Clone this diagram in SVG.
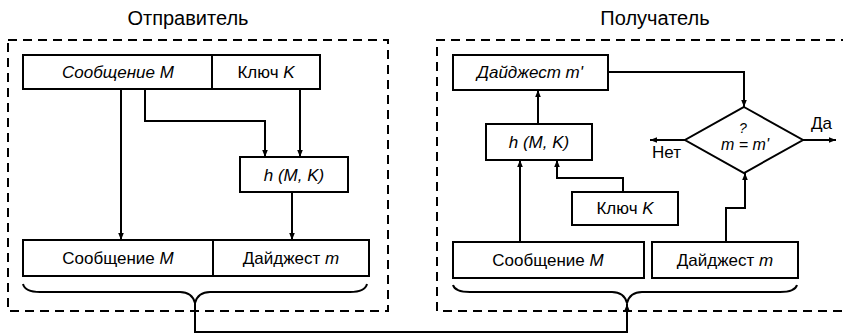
<svg xmlns="http://www.w3.org/2000/svg" width="843" height="334" viewBox="0 0 843 334">
<defs>
<marker id="ah" viewBox="0 0 10 10" refX="10" refY="5" markerWidth="7" markerHeight="7" orient="auto" markerUnits="userSpaceOnUse">
<path d="M0,1 L10,5 L0,9 z" fill="#000"/>
</marker>
<style>
.box{fill:#fff;stroke:#000;stroke-width:2}
.dash{fill:none;stroke:#000;stroke-width:2;stroke-dasharray:9,6}
.ln{fill:none;stroke:#000;stroke-width:2}
.ar{fill:none;stroke:#000;stroke-width:2;marker-end:url(#ah)}
text{font-family:"Liberation Sans",Arial,sans-serif;font-size:17px;fill:#000;text-anchor:middle}
.ttl{font-size:20px}
.i{font-style:italic}
.st{text-anchor:start}
</style>
</defs>
<rect width="843" height="334" fill="#fff"/>

<g id="sender">
<text class="ttl" x="188" y="25">Отправитель</text>
<rect class="dash" x="8" y="40" width="380" height="271"/>
</g>
<g id="receiver">
<text class="ttl" x="655" y="25">Получатель</text>
<path class="dash" d="M850,40 H437 V311 H850"/>
</g>

<g id="s-msg-key">
<rect class="box" x="23" y="55" width="297" height="34"/>
<line class="ln" x1="212" y1="55" x2="212" y2="89"/>
<text class="i" x="118" y="78">Сообщение M</text>
<text x="266" y="78">Ключ <tspan class="i">K</tspan></text>
</g>
<g id="s-hash">
<rect class="box" x="240" y="157" width="108" height="35"/>
<text class="i" x="294" y="181">h (M, K)</text>
</g>
<g id="s-out">
<rect class="box" x="23" y="240" width="346" height="36"/>
<line class="ln" x1="213" y1="240" x2="213" y2="276"/>
<text x="118" y="264">Сообщение <tspan class="i">M</tspan></text>
<text x="291" y="264">Дайджест <tspan class="i">m</tspan></text>
</g>
<g id="s-brace">
<path class="ln" d="M23,284 Q25,292 40,292 L180,292 Q192,292 195,303 Q198,292 210,292 L350,292 Q365,292 367,284"/>
</g>

<g id="r-digest2">
<rect class="box" x="453" y="55" width="155" height="35"/>
<text class="i" x="530" y="78">Дайджест m'</text>
</g>
<g id="r-hash">
<rect class="box" x="486" y="124" width="106" height="36"/>
<text class="i" x="539" y="148">h (M, K)</text>
</g>
<g id="r-key">
<rect class="box" x="572" y="192" width="106" height="33"/>
<text x="625" y="214">Ключ <tspan class="i">K</tspan></text>
</g>
<g id="r-msg">
<rect class="box" x="453" y="242" width="191" height="36"/>
<text x="548" y="266">Сообщение <tspan class="i">M</tspan></text>
</g>
<g id="r-digest">
<rect class="box" x="652" y="242" width="146" height="36"/>
<text x="725" y="266">Дайджест <tspan class="i">m</tspan></text>
</g>
<g id="r-compare">
<polygon class="box" points="744,107 803,140 744,173 685,140"/>
<text class="i" x="743" y="133" style="font-size:14px">?</text>
<text class="i" x="745" y="150" style="font-size:16px">m = m'</text>
</g>
<g id="r-brace">
<path class="ln" d="M453,285 Q455,292 470,292 L612,292 Q624,292 627,303 Q630,292 642,292 L780,292 Q795,292 797,285"/>
</g>
<g id="labels">
<text class="st" x="811" y="129">Да</text>
<text class="st" x="652" y="158">Нет</text>
</g>

<g id="connectors">
<path class="ar" d="M121,89 V240"/>
<path class="ar" d="M145,89 V121 H265 V157"/>
<path class="ar" d="M300,89 V157"/>
<path class="ar" d="M292,192 V240"/>
<path class="ar" d="M195,303 V332 H627 V304"/>
<path class="ar" d="M608,72 H744 V107"/>
<path class="ar" d="M538,124 V90"/>
<path class="ar" d="M520,242 V160"/>
<path class="ar" d="M623,192 V178 H557 V160"/>
<path class="ar" d="M726,242 V208 H745 V173"/>
<path class="ar" d="M803,140 H836"/>
<path class="ar" d="M685,140 H650"/>
</g>
</svg>
